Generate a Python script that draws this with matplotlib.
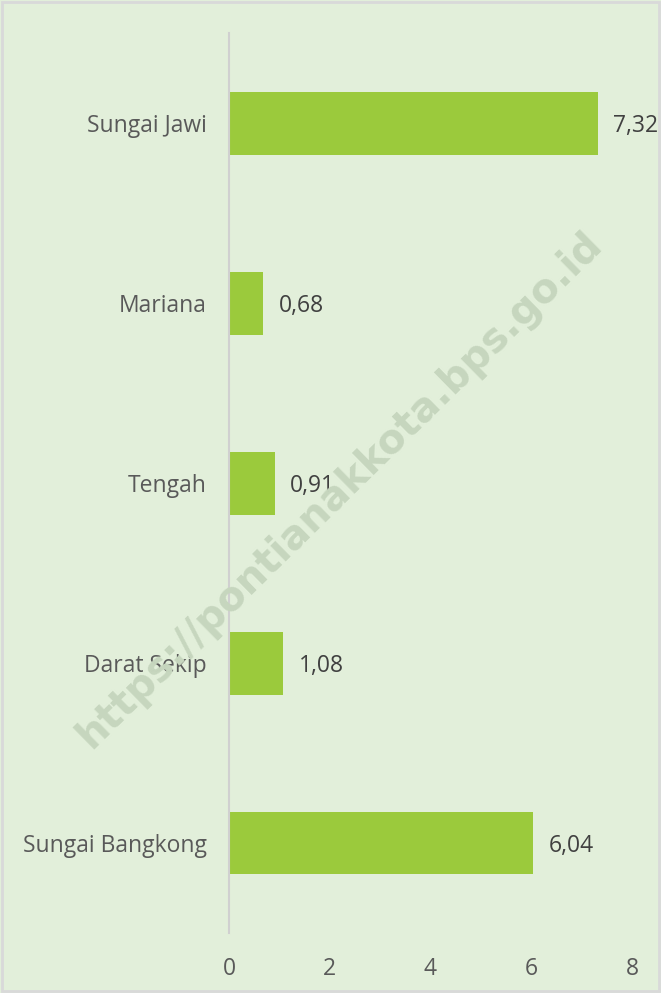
import matplotlib.pyplot as plt
from matplotlib.patches import Rectangle

# data
categories = ['Sungai Jawi', 'Mariana', 'Tengah', 'Darat Sekip', 'Sungai Bangkong']
values = [7.32, 0.68, 0.91, 1.08, 6.04]
xticks = [0, 2, 4, 6, 8]

bg = '#E2EFDA'
bar_color = '#9BCA3C'
label_color = '#595959'
value_color = '#404040'

plt.rcParams['font.family'] = ['Open Sans', 'DejaVu Sans']


def main():
    fig = plt.figure(figsize=(6.61, 9.93), dpi=100, facecolor=bg)
    W, H = 661, 993
    # axes: x 0..8 -> px 229..632, categories -> y 33..933
    ax = fig.add_axes([229 / W, 1 - 933 / H, (632 - 229) / W, 900 / H])
    ax.set_facecolor(bg)

    ypos = list(range(len(categories)))
    ax.barh(ypos, values, height=0.35, color=bar_color, zorder=2)
    ax.set_ylim(len(categories) - 0.5, -0.5)
    ax.set_xlim(0, 8)

    ax.set_yticks(ypos)
    ax.set_yticklabels(categories, fontsize=16.5, color=label_color)
    ax.set_xticks(xticks)
    ax.set_xticklabels([str(t) for t in xticks], fontsize=16.5, color=label_color)
    ax.tick_params(axis='both', length=0)
    ax.tick_params(axis='y', pad=16)
    ax.tick_params(axis='x', pad=17)

    for s in ['top', 'right', 'bottom']:
        ax.spines[s].set_visible(False)
    ax.spines['left'].set_color('#D0D0D0')
    ax.spines['left'].set_linewidth(1.5)

    # value labels
    for y, v in zip(ypos, values):
        ax.annotate('{:.2f}'.format(v).replace('.', ','), (v, y),
                    xytext=(11, -2), textcoords='offset points',
                    va='center', ha='left', fontsize=16.5, color=value_color)

    # watermark
    fig.text(340 / W, 1 - 490 / H, 'https://pontianakkota.bps.go.id',
             rotation=44.5, fontsize=29, fontweight='bold', color='#C6D6BE',
             ha='center', va='center', rotation_mode='anchor', zorder=5,
             family=['DejaVu Sans'])

    # light border around the figure
    fig.patches.append(Rectangle((2 / W, 2 / H), 1 - 4 / W, 1 - 4 / H,
                                 transform=fig.transFigure, fill=False,
                                 edgecolor='#D9D9D9', linewidth=2))

    fig.savefig('out.png', dpi=100, facecolor=bg)
    plt.close()


if __name__ == '__main__':
    main()
